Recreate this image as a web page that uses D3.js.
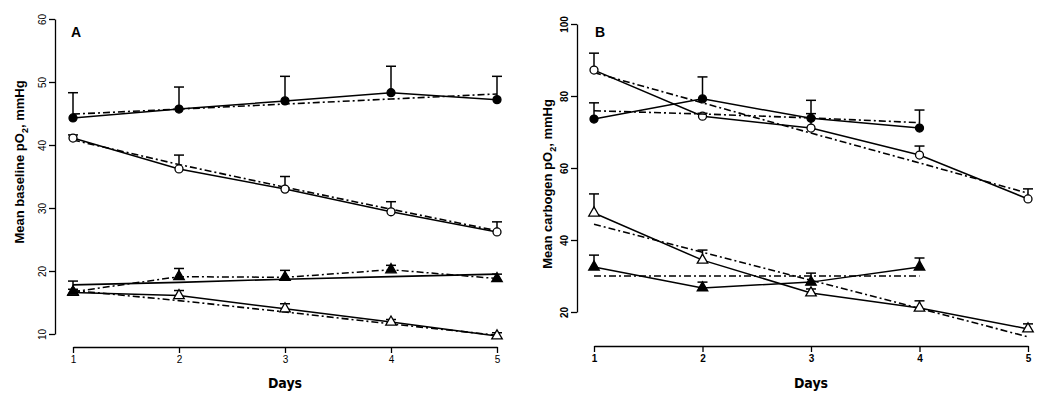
<!DOCTYPE html>
<html>
<head>
<meta charset="utf-8">
<script src="https://cdn.jsdelivr.net/npm/d3@7"></script>
<style>
  body { margin: 0; background: #fff; }
  svg { display: block; }
</style>
</head>
<body>
<div id="chart"></div>
<script>
// Days on the x axis
const daysA = [1, 2, 3, 4, 5];
const daysB = [1, 2, 3, 4, 5];
const daysB4 = [1, 2, 3, 4];

// Panel A: baseline pO2 (mean, upper SE, fitted)
const aFilledCircle = [44.3, 45.7, 47.0, 48.3, 47.2];
const aFilledCircleErr = [4.0, 3.5, 3.9, 4.2, 3.7];
const aFilledCircleFit = [44.9, 45.7, 46.5, 47.3, 48.1];

const aOpenCircle = [41.1, 36.2, 33.0, 29.4, 26.2];
const aOpenCircleErr = [0.5, 2.2, 2.0, 1.6, 1.6];
const aOpenCircleFit = [40.8, 36.9, 33.3, 29.8, 26.4];

const aFilledTri = [16.7, 19.1, 19.0, 20.2, 18.8];
const aFilledTriErr = [1.7, 1.3, 1.1, 0.7, 0.7];
const aFilledTriFit = [17.8, 18.2, 18.7, 19.1, 19.5];

const aOpenTri = [16.6, 16.1, 14.0, 11.9, 9.7];
const aOpenTriErr = [0.5, 0.8, 0.8, 0.4, 0.5];
const aOpenTriFit = [16.9, 15.3, 13.5, 11.6, 9.8];

// Panel B: carbogen pO2
const bFilledCircle = [73.6, 79.2, 73.8, 71.1];
const bFilledCircleErr = [4.5, 6.1, 5.0, 5.0];
const bFilledCircleFit = [75.9, 75.0, 73.9, 72.6];

const bOpenCircle = [87.2, 74.4, 71.1, 63.6, 51.4];
const bOpenCircleErr = [4.7, 0.8, 4.0, 2.5, 2.8];
const bOpenCircleFit = [86.5, 78.1, 69.7, 61.4, 53.0];

const bOpenTri = [47.5, 34.4, 25.3, 21.1, 15.3];
const bOpenTriErr = [5.3, 2.8, 1.1, 2.0, 1.4];
const bOpenTriFit = [44.4, 36.6, 28.8, 21.0, 13.1];

const bFilledTri = [32.5, 26.7, 28.3, 32.5];
const bFilledTriErr = [3.3, 1.6, 2.5, 2.5];
const bFilledTriFit = [30.0, 30.0, 30.0, 30.0];

// Tick labels
const xTicks = [1, 2, 3, 4, 5];
const yTicksA = [10, 20, 30, 40, 50, 60];
const yTicksB = [20, 40, 60, 80, 100];

const width = 1050, height = 401;
const dashDot = "7,3,2,3";

const svg = d3.select("#chart")
    .append("svg")
    .attr("width", width)
    .attr("height", height)
    .style("font-family", "Arial, 'Liberation Sans', sans-serif");

function drawPanel(p) {
    const x = d3.scaleLinear().domain([1, 5]).range(p.xRange);
    const y = d3.scaleLinear().domain(p.yDomain).range(p.yRange);
    const g = svg.append("g");

    // y axis
    const yAxis = g.append("g")
        .attr("transform", `translate(${p.yAxisX},0)`)
        .call(d3.axisLeft(y).tickValues(p.yTicks).tickSize(6).tickSizeOuter(0));
    yAxis.selectAll("text")
        .attr("transform", "rotate(-90)")
        .attr("x", 0)
        .attr("y", -9)
        .attr("dy", "0")
        .style("text-anchor", "middle")
        .style("font-size", "10px")
        .style("font-weight", p.tickBold ? "bold" : "normal");

    // x axis
    const xAxis = g.append("g")
        .attr("transform", `translate(0,${p.xAxisY})`)
        .call(d3.axisBottom(x).tickValues(xTicks).tickFormat(d3.format("d")).tickSize(6).tickSizeOuter(0));
    xAxis.selectAll("text")
        .style("font-size", "10px")
        .style("font-weight", p.tickBold ? "bold" : "normal");

    g.selectAll(".domain, .tick line").attr("stroke", "#000").attr("stroke-width", 1.3);

    // axis titles
    g.append("text")
        .attr("x", (p.xRange[0] + p.xRange[1]) / 2)
        .attr("y", 388)
        .style("text-anchor", "middle")
        .style("font-family", "'Liberation Sans Narrow', 'DejaVu Sans Condensed', Arial, sans-serif")
        .style("font-weight", "bold")
        .style("font-size", "14px")
        .text("Days");

    const yl = g.append("text")
        .attr("transform", `translate(${p.yLabelX},${p.yLabelY}) rotate(-90)`)
        .style("text-anchor", "middle")
        .style("font-weight", "bold")
        .style("font-size", "13px");
    yl.append("tspan").text(p.yLabel);
    yl.append("tspan").attr("dy", 4).style("font-size", "9px").text("2");
    yl.append("tspan").attr("dy", -4).text(", mmHg");

    // panel letter
    g.append("text")
        .attr("x", p.letterX)
        .attr("y", 37)
        .style("font-weight", "bold")
        .style("font-size", "14px")
        .text(p.letter);

    const line = d3.line().x(d => x(d.day)).y(d => y(d.v));

    p.series.forEach(s => {
        const pts = s.days.map((d, i) => ({day: d, v: s.values[i], e: s.err[i]}));
        const fit = s.days.map((d, i) => ({day: d, v: s.fit[i]}));

        // fitted line
        g.append("path")
            .datum(fit)
            .attr("fill", "none")
            .attr("stroke", "#000")
            .attr("stroke-width", 1.6)
            .attr("stroke-dasharray", s.fitSolid ? null : dashDot)
            .attr("d", line);

        // line through the means
        g.append("path")
            .datum(pts)
            .attr("fill", "none")
            .attr("stroke", "#000")
            .attr("stroke-width", 1.5)
            .attr("stroke-dasharray", s.fitSolid ? dashDot : null)
            .attr("d", line);

        // upper error bars
        const eb = g.append("g").attr("stroke", "#000").attr("stroke-width", 1.5);
        pts.forEach(d => {
            eb.append("line")
                .attr("x1", x(d.day)).attr("x2", x(d.day))
                .attr("y1", y(d.v)).attr("y2", y(d.v + d.e));
            eb.append("line")
                .attr("x1", x(d.day) - 5).attr("x2", x(d.day) + 5)
                .attr("y1", y(d.v + d.e)).attr("y2", y(d.v + d.e));
        });

        // markers
        const sym = d3.symbol()
            .type(s.shape === "circle" ? d3.symbolCircle : d3.symbolTriangle)
            .size(s.shape === "circle" ? 50 : 48);
        g.selectAll(null)
            .data(pts)
            .enter()
            .append("path")
            .attr("transform", d => `translate(${x(d.day)},${y(d.v)})`)
            .attr("d", sym)
            .attr("fill", s.filled ? "#000" : "#fff")
            .attr("stroke", "#000")
            .attr("stroke-width", 1.3);
    });
}

drawPanel({
    letter: "A", letterX: 71,
    xRange: [73, 497], xAxisY: 347,
    yDomain: [10, 60], yRange: [334, 19], yAxisX: 55, yTicks: yTicksA,
    yLabel: "Mean baseline pO", yLabelX: 24, yLabelY: 162,
    tickBold: false,
    series: [
        {days: daysA, values: aOpenTri, err: aOpenTriErr, fit: aOpenTriFit, shape: "tri", filled: false},
        {days: daysA, values: aFilledTri, err: aFilledTriErr, fit: aFilledTriFit, shape: "tri", filled: true, fitSolid: true},
        {days: daysA, values: aOpenCircle, err: aOpenCircleErr, fit: aOpenCircleFit, shape: "circle", filled: false},
        {days: daysA, values: aFilledCircle, err: aFilledCircleErr, fit: aFilledCircleFit, shape: "circle", filled: true}
    ]
});

drawPanel({
    letter: "B", letterX: 595,
    xRange: [594, 1028], xAxisY: 346,
    yDomain: [20, 100], yRange: [312, 24], yAxisX: 577, yTicks: yTicksB,
    yLabel: "Mean carbogen pO", yLabelX: 552, yLabelY: 184,
    tickBold: true,
    series: [
        {days: daysB, values: bOpenTri, err: bOpenTriErr, fit: bOpenTriFit, shape: "tri", filled: false},
        {days: daysB4, values: bFilledTri, err: bFilledTriErr, fit: bFilledTriFit, shape: "tri", filled: true},
        {days: daysB, values: bOpenCircle, err: bOpenCircleErr, fit: bOpenCircleFit, shape: "circle", filled: false},
        {days: daysB4, values: bFilledCircle, err: bFilledCircleErr, fit: bFilledCircleFit, shape: "circle", filled: true}
    ]
});
</script>
</body>
</html>
